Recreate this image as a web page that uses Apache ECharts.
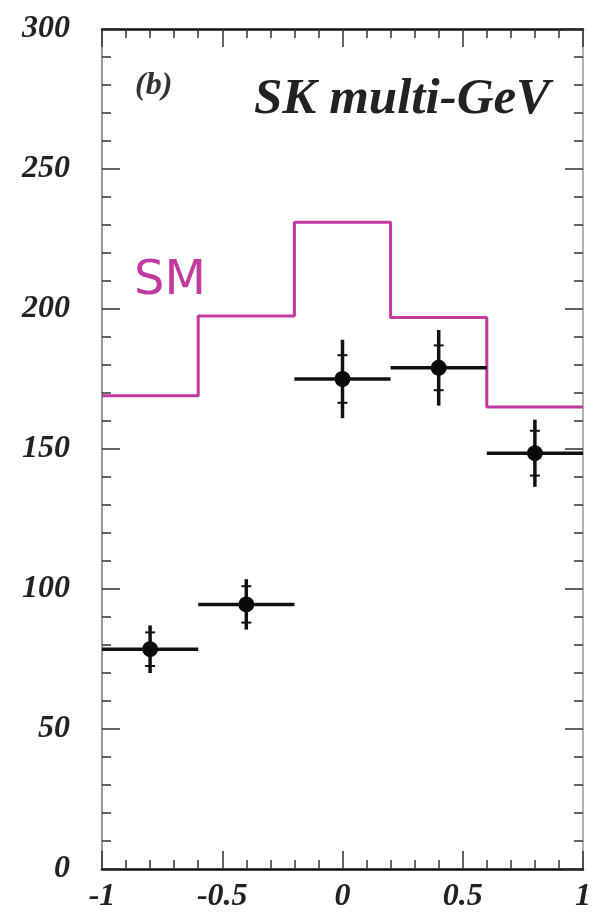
<!DOCTYPE html>
<html><head><meta charset="utf-8">
<script src="https://cdn.jsdelivr.net/npm/echarts@6/dist/echarts.min.js"></script>
<style>html,body{margin:0;padding:0;background:#fff}#c{width:596px;height:921px}</style>
</head><body><div id="c"></div>
<script>
// SM expectation histogram (bin edges + contents)
const binEdges = [-1, -0.6, -0.2, 0.2, 0.6, 1];
const smValues = [169, 197.5, 231, 197, 165];
// Data points
const dataX = [-0.8, -0.4, 0, 0.4, 0.8];
const dataY = [78.5, 94.5, 175, 179, 148.5];
const dataXErr = [0.2, 0.2, 0.2, 0.2, 0.2];
const dataYErrTot = [8.5, 9, 14, 13.5, 12];
const dataYErrStat = [6, 6.5, 8.5, 8, 8];
// Tick labels
const xTicks = [-1, -0.5, 0, 0.5, 1];
const yTicks = [0, 50, 100, 150, 200, 250, 300];

const smLine = binEdges.map((e, i) => [e, smValues[Math.min(i, smValues.length - 1)]]);
const points = dataX.map((x, i) => [x, dataY[i], dataXErr[i], dataYErrTot[i], dataYErrStat[i]]);

const labelFont = { fontFamily: 'Liberation Serif', fontStyle: 'italic', fontWeight: 'bold', fontSize: 32, color: '#222' };
const MAG = '#c23a9f';

const chart = echarts.init(document.getElementById('c'), null, { renderer: 'canvas' });
const axisCommon = {
  type: 'value',
  splitLine: { show: false },
  minorSplitLine: { show: false },
  minorTick: { show: true, splitNumber: 5, length: 9, lineStyle: { color: '#333', width: 1.5 } },
  axisTick: { show: true, inside: true, length: 18, lineStyle: { color: '#333', width: 1.5 } }
};
chart.setOption({
  animation: false,
  backgroundColor: '#fff',
  grid: { left: 102, right: 13, top: 29, bottom: 52 },
  xAxis: [
    Object.assign({}, axisCommon, {
      min: -1, max: 1, interval: 0.5, position: 'bottom',
      axisLine: { show: true, onZero: false, lineStyle: { color: '#111', width: 2.5 } },
      axisLabel: Object.assign({}, labelFont, { margin: 12,
        formatter: v => { const t = xTicks.find(k => Math.abs(k - v) < 1e-9); return t === undefined ? '' : String(t); } })
    }),
    Object.assign({}, axisCommon, {
      min: -1, max: 1, interval: 0.5, position: 'top',
      axisLine: { show: true, onZero: false, lineStyle: { color: '#111', width: 2.5 } },
      axisLabel: { show: false }
    })
  ],
  yAxis: [
    Object.assign({}, axisCommon, {
      min: 0, max: 300, interval: 50, position: 'left',
      axisLine: { show: true, onZero: false, lineStyle: { color: '#777', width: 1.5 } },
      axisLabel: Object.assign({}, labelFont, { margin: 32,
        formatter: v => { const t = yTicks.find(k => Math.abs(k - v) < 1e-9); return t === undefined ? '' : String(t); } })
    }),
    Object.assign({}, axisCommon, {
      min: 0, max: 300, interval: 50, position: 'right',
      axisLine: { show: true, onZero: false, lineStyle: { color: '#999', width: 1.5 } },
      axisLabel: { show: false }
    })
  ],
  series: [
    {
      type: 'line', step: 'end', data: smLine, symbol: 'none',
      lineStyle: { color: MAG, width: 3 }, z: 2
    },
    {
      type: 'custom', data: points, z: 3,
      renderItem: (params, api) => {
        const x = api.value(0), y = api.value(1), xe = api.value(2), ye = api.value(3), se = api.value(4);
        const c = api.coord([x, y]);
        const l = api.coord([x - xe, y]), r = api.coord([x + xe, y]);
        const t = api.coord([x, y + ye]), b = api.coord([x, y - ye]);
        const st = api.coord([x, y + se]), sb = api.coord([x, y - se]);
        const st2 = { stroke: '#111', lineWidth: 3.5 };
        return { type: 'group', children: [
          { type: 'line', shape: { x1: l[0], y1: l[1], x2: r[0], y2: r[1] }, style: st2 },
          { type: 'line', shape: { x1: t[0], y1: t[1], x2: b[0], y2: b[1] }, style: st2 },
          { type: 'line', shape: { x1: c[0] - 5, y1: st[1], x2: c[0] + 5, y2: st[1] }, style: { stroke: '#111', lineWidth: 2 } },
          { type: 'line', shape: { x1: c[0] - 5, y1: sb[1], x2: c[0] + 5, y2: sb[1] }, style: { stroke: '#111', lineWidth: 2 } },
          { type: 'circle', shape: { cx: c[0], cy: c[1], r: 8 }, style: { fill: '#0a0a0a' } }
        ] };
      }
    }
  ],
  graphic: [
    { type: 'text', left: 135, top: 70, style: { text: '(b)', font: 'italic bold 32px "Liberation Serif"', fill: '#333' } },
    { type: 'text', left: 254, top: 74, style: { text: 'SK multi-GeV', font: 'italic bold 51px "Liberation Serif"', fill: '#222' } },
    { type: 'text', left: 134, top: 258, style: { text: 'SM', font: '48px "DejaVu Sans"', fill: MAG } }
  ]
});
</script></body></html>
